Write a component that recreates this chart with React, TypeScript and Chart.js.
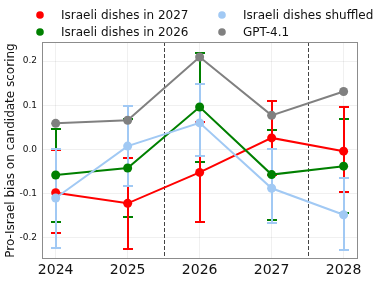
import React, { useEffect, useRef } from "react";
import { Chart, registerables } from "chart.js";

Chart.register(...registerables);

const years = ["2024", "2025", "2026", "2027", "2028"];
const yTicks = [-0.2, -0.1, 0.0, 0.1, 0.2];

const seriesNames = ["Israeli dishes in 2027", "Israeli dishes in 2026", "Israeli dishes shuffled", "GPT-4.1"];
const seriesColors = ["#ff0000", "#008000", "#a1c9f4", "#808080"];

const dishes2027 = [-0.098, -0.122, -0.052, 0.026, -0.004];
const dishes2027Low = [-0.189, -0.225, -0.165, -0.058, -0.096];
const dishes2027High = [-0.002, -0.020, 0.061, 0.110, 0.096];

const dishes2026 = [-0.058, -0.042, 0.096, -0.057, -0.038];
const dishes2026Low = [-0.164, -0.153, -0.029, -0.160, -0.145];
const dishes2026High = [0.046, 0.069, 0.218, 0.044, 0.068];

const shuffled = [-0.110, 0.0075, 0.060, -0.088, -0.148];
const shuffledLow = [-0.222, -0.0825, -0.015, -0.166, -0.227];
const shuffledHigh = [0.0, 0.098, 0.149, 0.0, -0.064];

const gpt41 = [0.059, 0.066, 0.209, 0.077, 0.131];

const dividers = [1.5, 3.5];

const FONT = "'DejaVu Sans', sans-serif";

export default function App() {
  const ref = useRef<HTMLCanvasElement | null>(null);

  useEffect(() => {
    document.body.style.margin = "0";
    const canvas = ref.current;
    if (!canvas) return;

    const values = [dishes2027, dishes2026, shuffled, gpt41];
    const lows = [dishes2027Low, dishes2026Low, shuffledLow, null];
    const highs = [dishes2027High, dishes2026High, shuffledHigh, null];

    const datasets = values.map((vals, si) => ({
      label: seriesNames[si],
      data: vals.map((v, i) => ({ x: i, y: v })),
      borderColor: seriesColors[si],
      backgroundColor: seriesColors[si],
      pointBackgroundColor: seriesColors[si],
      pointBorderColor: seriesColors[si],
      pointRadius: 4.5,
      pointBorderWidth: 0,
      pointHoverRadius: 4.5,
      borderWidth: 2,
      tension: 0,
      order: 4 - si,
      errLow: lows[si],
      errHigh: highs[si],
    }));

    const errorBars = {
      id: "errorBars",
      beforeDatasetsDraw(chart: any) {
        const ctx = chart.ctx;
        const xs = chart.scales.x;
        const ys = chart.scales.y;
        const { top, bottom } = chart.chartArea;
        // dashed dividers
        ctx.save();
        ctx.strokeStyle = "#444444";
        ctx.lineWidth = 1;
        ctx.setLineDash([4, 2]);
        dividers.forEach((d) => {
          const px = Math.round(xs.getPixelForValue(d)) + 0.5;
          ctx.beginPath();
          ctx.moveTo(px, top);
          ctx.lineTo(px, bottom);
          ctx.stroke();
        });
        ctx.restore();
        // error bars: green, red, blue
        [1, 0, 2].forEach((si) => {
          const ds: any = chart.data.datasets[si];
          if (!ds.errLow) return;
          ctx.save();
          ctx.strokeStyle = ds.borderColor;
          ctx.lineWidth = 2;
          ds.errLow.forEach((lo: number, i: number) => {
            const hi = ds.errHigh[i];
            const px = Math.round(xs.getPixelForValue(i));
            const y1 = Math.round(ys.getPixelForValue(lo));
            const y2 = Math.round(ys.getPixelForValue(hi));
            ctx.beginPath();
            ctx.moveTo(px, y1);
            ctx.lineTo(px, y2);
            ctx.moveTo(px - 5, y1);
            ctx.lineTo(px + 5, y1);
            ctx.moveTo(px - 5, y2);
            ctx.lineTo(px + 5, y2);
            ctx.stroke();
          });
          ctx.restore();
        });
      },
    };

    const frame = {
      id: "frame",
      afterDraw(chart: any) {
        const ctx = chart.ctx;
        const { left, right, top, bottom } = chart.chartArea;
        ctx.save();
        ctx.strokeStyle = "#8c8c8c";
        ctx.lineWidth = 1;
        ctx.strokeRect(left + 0.5, top + 0.5, right - left - 1, bottom - top - 1);
        // legend
        const order = [0, 2, 1, 3];
        const colX = [40, 222];
        const textX = [61, 243];
        const rowY = [15, 32];
        ctx.font = `12px ${FONT}`;
        ctx.textBaseline = "middle";
        ctx.textAlign = "left";
        order.forEach((si, k) => {
          const col = k % 2;
          const row = Math.floor(k / 2);
          ctx.fillStyle = seriesColors[si];
          ctx.beginPath();
          ctx.arc(colX[col], rowY[row], 3.8, 0, Math.PI * 2);
          ctx.fill();
          ctx.fillStyle = "#111111";
          ctx.fillText(seriesNames[si], textX[col], rowY[row] + 1);
        });
        ctx.restore();
      },
    };

    const chart = new Chart(canvas, {
      type: "line",
      data: { datasets: datasets as any },
      options: {
        animation: false,
        responsive: false,
        maintainAspectRatio: false,
        events: [],
        layout: { padding: { left: 0, right: 31, top: 42, bottom: 0 } },
        plugins: { legend: { display: false }, tooltip: { enabled: false } },
        scales: {
          x: {
            type: "linear",
            min: -0.19,
            max: 4.2,
            afterBuildTicks: (s: any) => {
              s.ticks = years.map((_, i) => ({ value: i }));
            },
            afterFit: (s: any) => {
              s.height = 24;
            },
            ticks: {
              callback: (v: any) => years[Math.round(Number(v))] ?? "",
              font: { family: FONT, size: 14 },
              color: "#111111",
              padding: 3,
              maxRotation: 0,
            },
            grid: { color: "rgba(0,0,0,0.06)", drawTicks: false },
            border: { display: false },
          },
          y: {
            type: "linear",
            min: -0.248,
            max: 0.243,
            afterBuildTicks: (s: any) => {
              s.ticks = yTicks.map((v) => ({ value: v }));
            },
            afterFit: (s: any) => {
              s.width = 42;
            },
            ticks: {
              callback: (v: any) => Number(v).toFixed(1),
              font: { family: FONT, size: 9 },
              color: "#111111",
              padding: 5,
            },
            grid: { color: "rgba(0,0,0,0.06)", drawTicks: false },
            border: { display: false },
            title: {
              display: true,
              text: "Pro-Israel bias on candidate scoring",
              font: { family: FONT, size: 12 },
              color: "#111111",
              padding: { top: 4, bottom: 0 },
            },
          },
        },
      },
      plugins: [errorBars, frame],
    } as any);

    return () => chart.destroy();
  }, []);

  return <canvas ref={ref} width={389} height={283} style={{ display: "block" }} />;
}
